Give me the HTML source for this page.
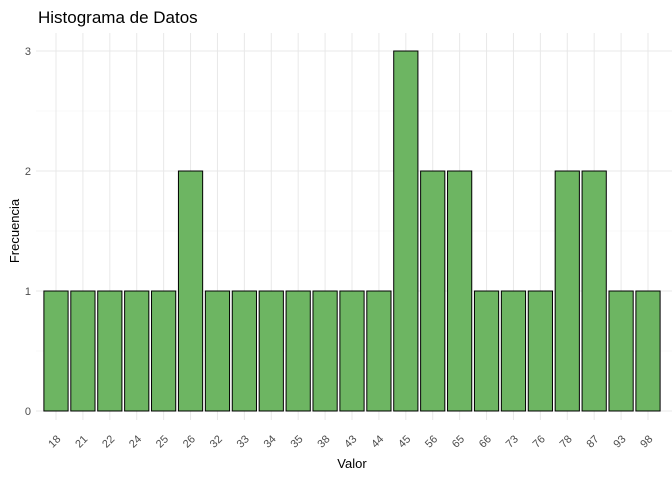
<!DOCTYPE html>
<html><head><meta charset="utf-8"><style>
body{margin:0;background:#fff}
svg{display:block;font-family:"Liberation Sans",sans-serif}
</style></head><body>
<svg id="c" width="672" height="480">
<text x="38" y="23" font-size="17" fill="#000">Histograma de Datos</text>
<text x="352" y="468" font-size="13" text-anchor="middle">Valor</text>
<text transform="translate(19,231) rotate(-90)" font-size="13" text-anchor="middle">Frecuencia</text>
<g id="grid"></g><g id="bars"></g><g id="ticks"></g>
</svg>
<script>
const categories=["18","21","22","24","25","26","32","33","34","35","38","43","44","45","56","65","66","73","76","78","87","93","98"];
const counts=[1,1,1,1,1,2,1,1,1,1,1,1,1,3,2,2,1,1,1,2,2,1,1];
const yTicks=[0,1,2,3];
const NS="http://www.w3.org/2000/svg";
const x0=56,step=(648-56)/22,bw=step*0.9;
const xs=i=>x0+i*step;
const ys=v=>411-v*120;
const g=document.getElementById('grid'),b=document.getElementById('bars'),t=document.getElementById('ticks');
function mk(tag,attrs,p){const e=document.createElementNS(NS,tag);for(const k in attrs)e.setAttribute(k,attrs[k]);p.appendChild(e);return e;}
for(let v=0;v<=3.3;v+=0.5){
 const l=mk('line',{x1:36,x2:672,y1:ys(v),y2:ys(v),stroke:v%1?'#f3f3f3':'#e8e8e8','stroke-width':v%1?0.6:1},g);
 
 
}
for(const v of yTicks){
 const tx=mk('text',{x:31,y:ys(v)+4,'font-size':11,fill:'#4d4d4d','text-anchor':'end'},t);
 tx.textContent=v;
 
 
}
categories.forEach((c,i)=>{
 const l=mk('line',{x1:xs(i),x2:xs(i),y1:33,y2:420,stroke:'#e8e8e8'},g);
 
 
 const r=mk('rect',{x:xs(i)-bw/2,y:ys(counts[i]),width:bw,height:ys(0)-ys(counts[i]),fill:'#6db562',stroke:'#000','stroke-width':1},b);
 
 
 const tx=mk('text',{transform:`translate(${xs(i)+1},${444}) rotate(-45)`,'font-size':11,fill:'#4d4d4d','text-anchor':'middle'},t);
 tx.textContent=c;
 
 
});
</script>
</body></html>
